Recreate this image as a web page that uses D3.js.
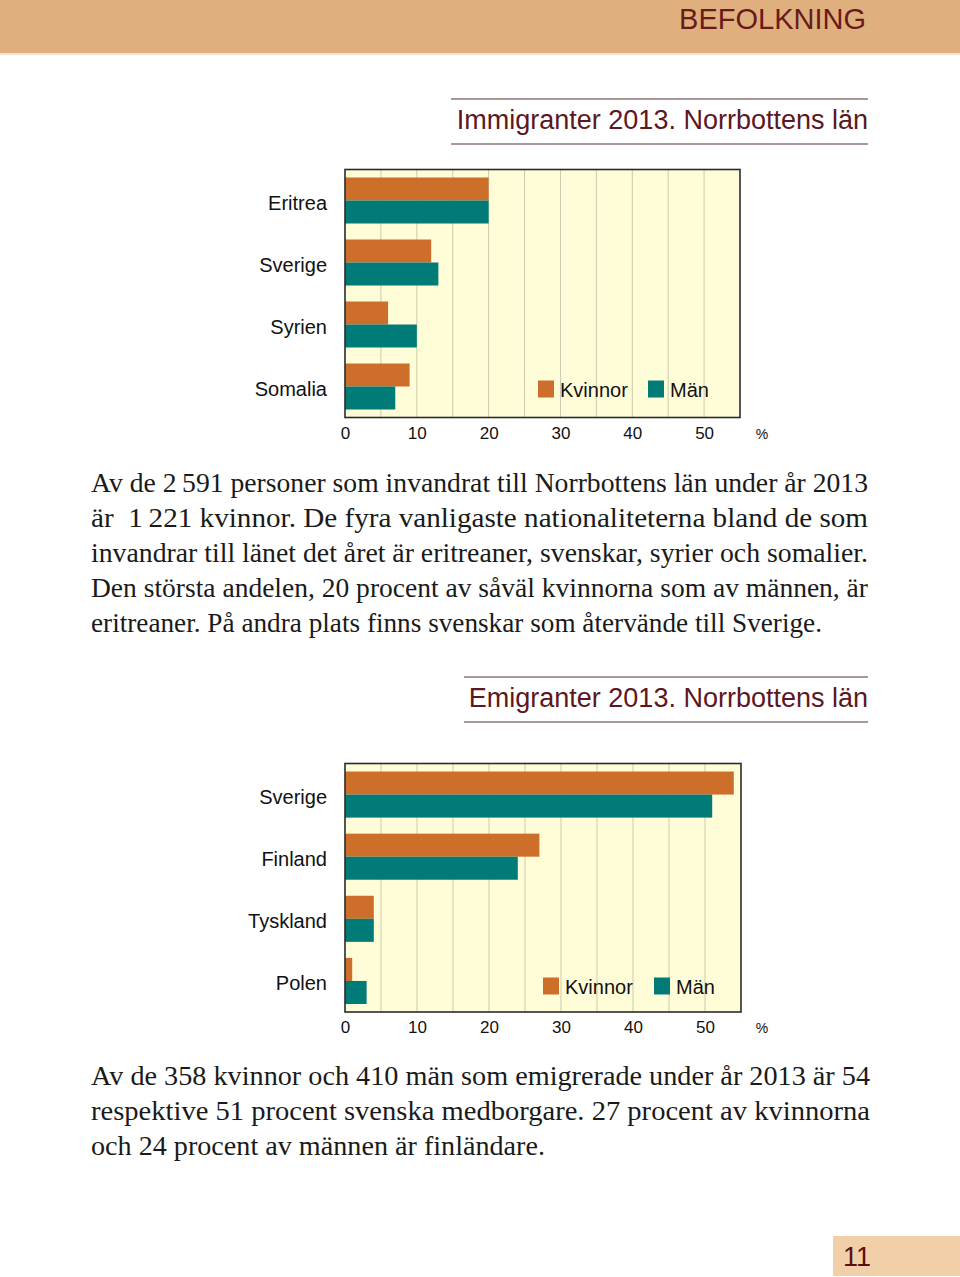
<!DOCTYPE html>
<html>
<head>
<meta charset="utf-8">
<script src="https://cdn.jsdelivr.net/npm/d3@7"></script>
<style>
  html, body { margin: 0; padding: 0; background: #ffffff; }
  svg { display: block; }
</style>
</head>
<body>
<script>
// ---------- DATA ----------
const immCategories = ["Eritrea", "Sverige", "Syrien", "Somalia"];
const immKvinnor = [20, 12, 6, 9];
const immMan = [20, 13, 10, 7];

const emiCategories = ["Sverige", "Finland", "Tyskland", "Polen"];
const emiKvinnor = [54, 27, 4, 1];
const emiMan = [51, 24, 4, 3];

const seriesNames = ["Kvinnor", "Män"];
const xTicks = [0, 10, 20, 30, 40, 50];
const gridValues = [5, 10, 15, 20, 25, 30, 35, 40, 45, 50];
const xMax = 55;

const headerText = "BEFOLKNING";
const pageNumber = "11";
const immTitle = "Immigranter 2013. Norrbottens län";
const emiTitle = "Emigranter 2013. Norrbottens län";

const para1 = [
  "Av de 2\u2009591 personer som invandrat till Norrbottens län under år 2013",
  "är  1\u2009221 kvinnor. De fyra vanligaste nationaliteterna bland de som",
  "invandrar till länet det året är eritreaner, svenskar, syrier och somalier.",
  "Den största andelen, 20 procent av såväl kvinnorna som av männen, är",
  "eritreaner. På andra plats finns svenskar som återvände till Sverige."
];
const para2 = [
  "Av de 358 kvinnor och 410 män som emigrerade under år 2013 är 54",
  "respektive 51 procent svenska medborgare. 27 procent av kvinnorna",
  "och 24 procent av männen är finländare."
];

// ---------- STYLE ----------
const W = 960, H = 1277;
const colors = { Kvinnor: "#cd6f2b", "Män": "#017b78" };
const maroon = "#5e1620";
const sans = "'Liberation Sans', Arial, Helvetica, sans-serif";
const serif = "'Liberation Serif', 'Times New Roman', serif";

const svg = d3.select("body").append("svg")
  .attr("width", W).attr("height", H)
  .attr("viewBox", `0 0 ${W} ${H}`);

// Header band
svg.append("rect").attr("x", 0).attr("y", 0).attr("width", W).attr("height", 53)
  .attr("fill", "#dfb07e");
svg.append("rect").attr("x", 0).attr("y", 53).attr("width", W).attr("height", 2)
  .attr("fill", "#f3e3cc");
svg.append("text").attr("x", 866).attr("y", 29)
  .attr("text-anchor", "end").attr("font-family", sans).attr("font-size", 29)
  .attr("fill", "#6a1a1a").text(headerText);

// Page number box
svg.append("rect").attr("x", 833).attr("y", 1236).attr("width", 127).attr("height", 40)
  .attr("fill", "#f1d0a9");
svg.append("text").attr("x", 843).attr("y", 1266)
  .attr("font-family", sans).attr("font-size", 27)
  .attr("fill", "#5a1010").text(pageNumber);

// Section title
function drawTitle(text, x0, x1, yTop, yBottom, baseline) {
  const g = svg.append("g");
  g.append("line").attr("x1", x0).attr("x2", x1).attr("y1", yTop).attr("y2", yTop)
    .attr("stroke", "#8f7476").attr("stroke-width", 1.5);
  g.append("line").attr("x1", x0).attr("x2", x1).attr("y1", yBottom).attr("y2", yBottom)
    .attr("stroke", "#8f7476").attr("stroke-width", 1.5);
  g.append("text").attr("x", x1).attr("y", baseline)
    .attr("text-anchor", "end").attr("font-family", sans).attr("font-size", 27)
    .attr("fill", maroon).text(text);
}

drawTitle(immTitle, 451, 868, 99, 144, 129);
drawTitle(emiTitle, 464, 868, 677, 722, 707);

// Bar chart
function drawChart(cfg) {
  const x = d3.scaleLinear().domain([0, xMax]).range([cfg.left, cfg.right]);
  const y = d3.scaleBand().domain(cfg.categories).range([cfg.top, cfg.bottom])
    .paddingInner(16 / 62).paddingOuter(8 / 62);
  const ys = d3.scaleBand().domain(seriesNames).range([0, y.bandwidth()]);

  const g = svg.append("g");
  g.append("rect").attr("x", cfg.left).attr("y", cfg.top)
    .attr("width", cfg.right - cfg.left).attr("height", cfg.bottom - cfg.top)
    .attr("fill", "#fffdd8");

  g.append("g").selectAll("line").data(gridValues).join("line")
    .attr("x1", d => x(d)).attr("x2", d => x(d))
    .attr("y1", cfg.top).attr("y2", cfg.bottom)
    .attr("stroke", "#cdc9ad").attr("stroke-width", 1);

  const rows = cfg.categories.map((c, i) => ({
    cat: c, values: [
      { s: "Kvinnor", v: cfg.kvinnor[i] },
      { s: "Män", v: cfg.man[i] }
    ]
  }));

  const grp = g.append("g").selectAll("g").data(rows).join("g")
    .attr("transform", d => `translate(0,${y(d.cat)})`);
  grp.selectAll("rect").data(d => d.values).join("rect")
    .attr("x", x(0)).attr("y", d => ys(d.s))
    .attr("width", d => x(d.v) - x(0)).attr("height", ys.bandwidth())
    .attr("fill", d => colors[d.s]);

  g.append("rect").attr("x", cfg.left).attr("y", cfg.top)
    .attr("width", cfg.right - cfg.left).attr("height", cfg.bottom - cfg.top)
    .attr("fill", "none").attr("stroke", "#2b2b2b").attr("stroke-width", 1.6);

  // category labels
  g.append("g").selectAll("text").data(cfg.categories).join("text")
    .attr("x", cfg.left - 18)
    .attr("y", d => y(d) + y.bandwidth() / 2 + 2)
    .attr("dy", "0.35em")
    .attr("text-anchor", "end").attr("font-family", sans).attr("font-size", 20)
    .attr("fill", "#111").text(d => d);

  // x axis
  const ax = g.append("g").attr("transform", `translate(0,${cfg.bottom})`)
    .call(d3.axisBottom(x).tickValues(xTicks).tickSize(0).tickPadding(cfg.tickPad)
      .tickFormat(d3.format("d")));
  ax.select(".domain").remove();
  ax.selectAll("text").attr("font-family", sans).attr("font-size", 17).attr("fill", "#111");

  g.append("text").attr("x", 762).attr("y", cfg.bottom + cfg.tickPad + 12)
    .attr("text-anchor", "middle").attr("font-family", sans).attr("font-size", 14)
    .attr("fill", "#111").text("%");

  // legend
  const lg = g.append("g").selectAll("g").data(seriesNames).join("g")
    .attr("transform", (d, i) => `translate(${cfg.legendX[i]},${cfg.legendY})`);
  lg.append("rect").attr("x", 0).attr("y", 0).attr("width", 16).attr("height", 17)
    .attr("fill", d => colors[d]);
  lg.append("text").attr("x", 22).attr("y", 16)
    .attr("font-family", sans).attr("font-size", 20).attr("fill", "#111").text(d => d);
}

drawChart({
  categories: immCategories, kvinnor: immKvinnor, man: immMan,
  left: 345, right: 740, top: 169.5, bottom: 417.5, tickPad: 9,
  legendX: [538, 648], legendY: 380.5
});
drawChart({
  categories: emiCategories, kvinnor: emiKvinnor, man: emiMan,
  left: 345, right: 741, top: 763.5, bottom: 1012, tickPad: 8.5,
  legendX: [543, 654], legendY: 977.5
});

// Paragraphs (justified)
function drawParagraph(lines, x0, x1, firstBaseline, lineStep, lastWidth) {
  const g = svg.append("g").attr("font-family", serif).attr("font-size", 27).attr("fill", "#1a1a1a");
  lines.forEach((ln, i) => {
    const isLast = i === lines.length - 1;
    const t = g.append("text").attr("x", x0).attr("y", firstBaseline + i * lineStep)
      .attr("xml:space", "preserve").style("white-space", "pre").text(ln);
    const target = isLast ? lastWidth : (x1 - x0);
    t.attr("textLength", target).attr("lengthAdjust", "spacingAndGlyphs");
  });
}

drawParagraph(para1, 91, 868, 492, 35, 822 - 91);
drawParagraph(para2, 91, 870, 1085, 35, 545 - 91);
</script>
</body>
</html>
